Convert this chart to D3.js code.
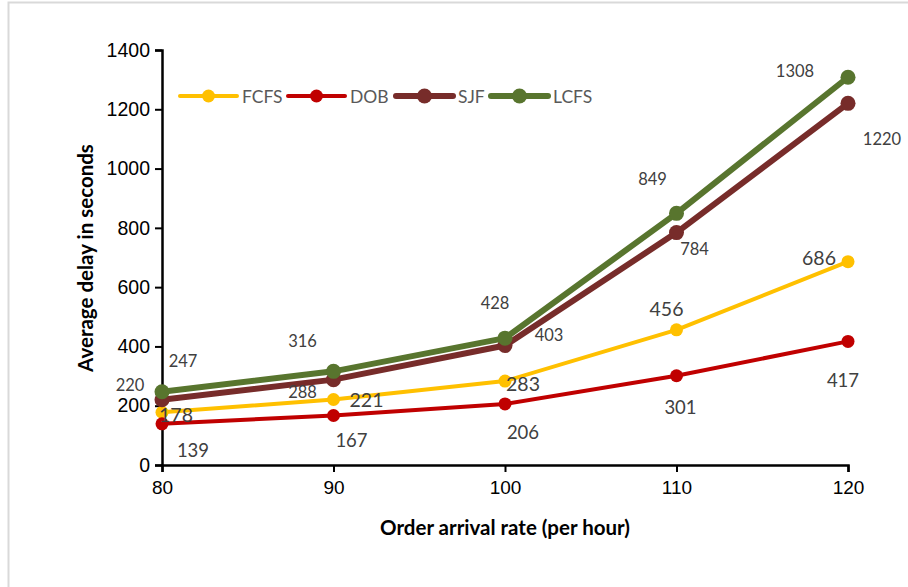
<!DOCTYPE html>
<html>
<head>
<meta charset="utf-8">
<script src="https://cdn.jsdelivr.net/npm/d3@7"></script>
<style>
  html, body { margin: 0; padding: 0; background: #fff; }
  svg { display: block; font-family: Lato, "Open Sans", sans-serif; }
</style>
</head>
<body>
<svg id="chart" width="908" height="587"></svg>
<script>
// Order arrival rates (per hour) on the x axis
const rates = [80, 90, 100, 110, 120];
// Average delay (seconds) per dispatching rule
const fcfs = [178, 221, 283, 456, 686];
const dob  = [139, 167, 206, 301, 417];
const sjf  = [220, 288, 403, 784, 1220];
const lcfs = [247, 316, 428, 849, 1308];
const seriesNames = ["FCFS", "DOB", "SJF", "LCFS"];
const yTicks = [0, 200, 400, 600, 800, 1000, 1200, 1400];

// Styling for each series (drawn back to front: FCFS, DOB, SJF, LCFS)
const styles = {
  FCFS: { color: "#FFC000", width: 4, r: 6.5, labelSize: 19.5 },
  DOB:  { color: "#C00000", width: 4, r: 6.5, labelSize: 18.5 },
  SJF:  { color: "#772C2A", width: 6, r: 7.5, labelSize: 16.5 },
  LCFS: { color: "#58752E", width: 6, r: 7.5, labelSize: 16.5 }
};
// Value label offsets (px) from each point
const labelOffsets = {
  FCFS: [[14, 2], [33, 0], [18, 2], [-10, -21], [-29, -4]],
  DOB:  [[31, 26], [18, 25], [18, 28], [4, 31], [-5, 39]],
  SJF:  [[-32, -15], [-31, 12], [44, -11], [18, 16], [34, 36]],
  LCFS: [[21, -31], [-31, -30], [-10, -35], [-24, -34], [-53, -6]]
};

const dataBy = { FCFS: fcfs, DOB: dob, SJF: sjf, LCFS: lcfs };

const svg = d3.select("#chart");

// light frame around the chart area
svg.append("rect")
  .attr("x", 8.5).attr("y", 2.5)
  .attr("width", 908).attr("height", 600)
  .attr("fill", "#fff")
  .attr("stroke", "#d9d9d9").attr("stroke-width", 2);

const x = d3.scaleLinear().domain([80, 120]).range([162, 848]);
const y = d3.scaleLinear().domain([0, 1400]).range([465, 50]);

// Y axis
const yAxis = svg.append("g")
  .attr("transform", `translate(${x(80)},0)`)
  .call(d3.axisLeft(y).tickValues(yTicks).tickSize(7).tickPadding(5).tickFormat(d3.format("d")));
yAxis.select(".domain").attr("stroke", "#000").attr("stroke-width", 2.5);
yAxis.selectAll(".tick line").attr("stroke", "#000").attr("stroke-width", 2);
yAxis.selectAll(".tick text").attr("font-size", 19.5).attr("fill", "#000");

// X axis
const xAxis = svg.append("g")
  .attr("transform", `translate(0,${y(0)})`)
  .call(d3.axisBottom(x).tickValues(rates).tickSize(7).tickPadding(9).tickFormat(d3.format("d")));
xAxis.select(".domain").attr("stroke", "#000").attr("stroke-width", 2.5);
xAxis.selectAll(".tick line").attr("stroke", "#000").attr("stroke-width", 2);
xAxis.selectAll(".tick text").attr("font-size", 19).attr("fill", "#000");

// Axis titles
svg.append("text")
  .attr("transform", `translate(85,258) rotate(-90)`)
  .attr("text-anchor", "middle")
  .attr("dominant-baseline", "central")
  .attr("font-size", 20.5).attr("font-weight", "bold").attr("fill", "#000")
  .text("Average delay in seconds");
svg.append("text")
  .attr("x", 505).attr("y", 535)
  .attr("text-anchor", "middle")
  .attr("font-size", 20.5).attr("font-weight", "bold").attr("fill", "#000")
  .text("Order arrival rate (per hour)");

const line = d3.line().x((d, i) => x(rates[i])).y(d => y(d));

// Series lines and markers
seriesNames.forEach(name => {
  const s = styles[name];
  const vals = dataBy[name];
  const g = svg.append("g");
  g.append("path")
    .datum(vals)
    .attr("d", line)
    .attr("fill", "none")
    .attr("stroke", s.color)
    .attr("stroke-width", s.width)
    .attr("stroke-linejoin", "round")
    .attr("stroke-linecap", "round");
  g.selectAll("circle")
    .data(vals)
    .join("circle")
    .attr("cx", (d, i) => x(rates[i]))
    .attr("cy", d => y(d))
    .attr("r", s.r)
    .attr("fill", s.color);
});

// Value labels
seriesNames.forEach(name => {
  const s = styles[name];
  const vals = dataBy[name];
  svg.append("g").selectAll("text")
    .data(vals)
    .join("text")
    .attr("x", (d, i) => x(rates[i]) + labelOffsets[name][i][0])
    .attr("y", (d, i) => y(d) + labelOffsets[name][i][1])
    .attr("text-anchor", "middle")
    .attr("dominant-baseline", "central")
    .attr("font-size", s.labelSize)
    .attr("fill", "#404040")
    .text(d => d);
});

// Legend
const legendItems = [
  { name: "FCFS", x0: 180 },
  { name: "DOB", x0: 288 },
  { name: "SJF", x0: 396 },
  { name: "LCFS", x0: 491 }
];
const legendY = 96;
const lg = svg.append("g");
legendItems.forEach(item => {
  const s = styles[item.name];
  lg.append("line")
    .attr("x1", item.x0).attr("x2", item.x0 + 57)
    .attr("y1", legendY).attr("y2", legendY)
    .attr("stroke", s.color).attr("stroke-width", s.width)
    .attr("stroke-linecap", "round");
  lg.append("circle")
    .attr("cx", item.x0 + 28.5).attr("cy", legendY)
    .attr("r", s.r).attr("fill", s.color);
  lg.append("text")
    .attr("x", item.x0 + 62).attr("y", legendY)
    .attr("dominant-baseline", "central")
    .attr("font-size", 17.5).attr("fill", "#595959")
    .text(item.name);
});
</script>
</body>
</html>
